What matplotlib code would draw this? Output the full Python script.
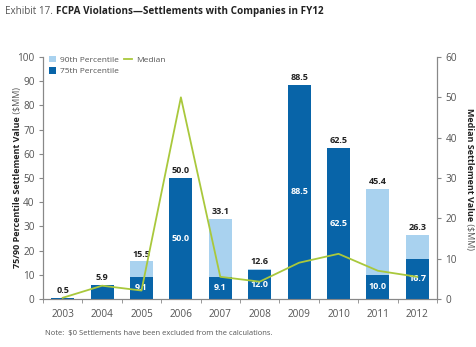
import matplotlib
matplotlib.use("Agg")
import matplotlib.pyplot as plt
import numpy as np

# data
years = ['2003', '2004', '2005', '2006', '2007', '2008', '2009', '2010', '2011', '2012']
p90 = [0.5, 5.9, 15.5, 50.0, 33.1, 12.6, 88.5, 62.5, 45.4, 26.3]
p75 = [0.5, 5.9, 9.1, 50.0, 9.1, 12.0, 88.5, 62.5, 10.0, 16.7]
p75_shown = [False, False, True, True, True, True, True, True, True, True]
median = [0.3, 3.3, 2.1, 50.0, 5.5, 4.3, 9.0, 11.2, 7.0, 5.5]

DARK = '#0864a8'
LIGHT = '#a9d2ef'
GREEN = '#a9c83c'
GREY = '#555555'

plt.rcParams['font.family'] = ['Open Sans', 'DejaVu Sans']

fig = plt.figure(figsize=(4.77, 3.47), dpi=100)
ax = fig.add_axes([43/477, 1 - 299/347, 394/477, 242/347])
ax2 = ax.twinx()

x = np.arange(len(years))
w = 0.58
ax.bar(x, p90, width=w, color=LIGHT, label='90th Percentile', zorder=2)
ax.bar(x, p75, width=w, color=DARK, label='75th Percentile', zorder=3)

for i in range(len(years)):
    ax.text(x[i], p90[i] + 1.2, f'{p90[i]:.1f}', ha='center', va='bottom',
            fontsize=6.5, fontweight='bold', color='#222222', zorder=6, clip_on=False)
    if p75_shown[i]:
        ax.text(x[i], p75[i] / 2, f'{p75[i]:.1f}', ha='center', va='center',
                fontsize=6.5, fontweight='bold', color='white', zorder=6)

line, = ax2.plot(x, median, color=GREEN, lw=1.3, label='Median', zorder=5)
ax2.set_zorder(ax.get_zorder() + 1)
ax2.patch.set_visible(False)

ax.set_xlim(-0.5, len(years) - 0.5)
ax.set_ylim(0, 100)
ax2.set_ylim(0, 60)
ax.set_yticks(range(0, 101, 10))
ax2.set_yticks(range(0, 61, 10))
ax.set_xticks(x)
ax.set_xticklabels(years)
ax.set_xticks(np.arange(-0.5, len(years), 1), minor=True)
ax.tick_params(axis='x', which='major', length=0, pad=7, labelsize=7.2, labelcolor=GREY)
ax.tick_params(axis='x', which='minor', length=3, color='#888888')
ax.tick_params(axis='y', length=3, color='#888888', labelsize=7.2, labelcolor=GREY, pad=3)
ax2.tick_params(axis='y', length=3, color='#888888', labelsize=7.2, labelcolor=GREY, pad=3)

for a in (ax, ax2):
    a.spines['top'].set_visible(False)
    for s in ('left', 'right', 'bottom'):
        a.spines[s].set_color('#888888')
        a.spines[s].set_linewidth(0.8)

h1, l1 = ax.get_legend_handles_labels()
leg = ax.legend(h1 + [line], l1 + ['Median'], ncol=2, loc='upper left',
                bbox_to_anchor=(0.0, 1.03), frameon=False, fontsize=6,
                handlelength=0.9, handleheight=0.9, columnspacing=0.6,
                labelspacing=0.35, borderaxespad=0.3, handletextpad=0.5)
for t in leg.get_texts():
    t.set_color(GREY)

# axis titles: bold part, then plain unit chained after it
yl = fig.text(18/477, 1 - 268/347, '75/90 Percentile Settlement Value', rotation=90,
              ha='center', va='bottom', fontsize=6.5, fontweight='bold', color='#222222')
ax.annotate(' ($MM)', xy=(0.5, 1), xycoords=yl, rotation=90, ha='center', va='bottom',
            fontsize=6.5, color=GREY, annotation_clip=False)
yr = fig.text(470/477, 1 - 108/347, 'Median Settlement Value', rotation=270,
              ha='center', va='top', fontsize=6.5, fontweight='bold', color='#222222')
ax.annotate(' ($MM)', xy=(0.5, 0), xycoords=yr, rotation=270, ha='center', va='top',
            fontsize=6.5, color=GREY, annotation_clip=False)

# title and note
t1 = fig.text(5/477, 1 - 14/347, 'Exhibit 17. ', ha='left', va='baseline', fontsize=7.1, color=GREY)
ax.annotate('FCPA Violations\u2014Settlements with Companies in FY12', xy=(1, 0), xycoords=t1,
            ha='left', va='bottom', fontsize=7.1, fontweight='bold', color='#222222',
            annotation_clip=False)
fig.text(45/477, 1 - 333/347, 'Note:  $0 Settlements have been excluded from the calculations.',
         ha='left', va='center', fontsize=5.5, color=GREY)

fig.savefig('out.png', dpi=100)
